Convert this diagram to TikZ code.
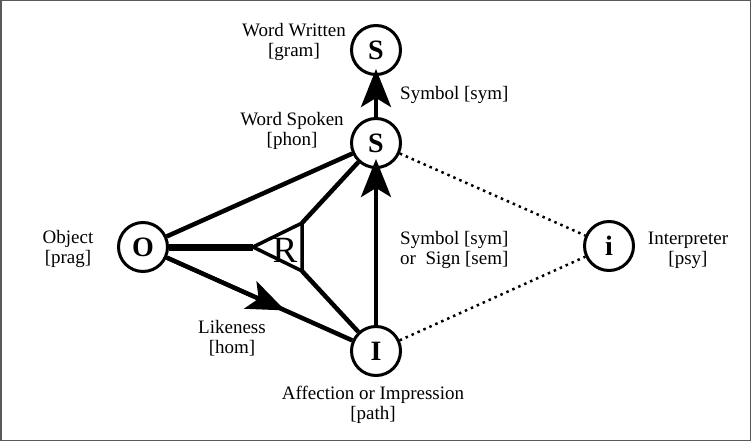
\documentclass[tikz,border=0pt]{standalone}
\usepackage{fontspec}
\setmainfont{Liberation Serif}
\usetikzlibrary{arrows.meta}
\begin{document}
\begin{tikzpicture}[x=1pt,y=-1pt,
  vtx/.style={circle,draw,line width=3pt,minimum size=49pt,inner sep=0pt,font=\fontsize{28}{28}\selectfont\bfseries},
  lbl/.style={font=\fontsize{19}{20}\selectfont,align=center,inner sep=0pt},
  lbll/.style={font=\fontsize{19}{20}\selectfont,align=left,inner sep=0pt},
  heavy/.style={line width=4.5pt},
  bigarrow/.style={line width=4pt,-{Stealth[length=38pt,width=30pt,inset=9pt]}},
  dotline/.style={line width=2.5pt,dash pattern=on 2.5pt off 4pt}
]
\useasboundingbox (0,0) rectangle (751,441);
\draw[line width=1.5pt,black!65] (0.75,0.75) rectangle (750.25,440.25);

% vertices
\node[vtx] (S1) at (376,50) {S};
\node[vtx] (S2) at (376,143) {S};
\node[vtx] (O) at (143,247) {O};
\node[vtx] (I) at (376,351) {I};
\node[vtx] (i) at (609,246) {i};

% R triangle
\coordinate (Rl) at (253,247);
\coordinate (Rt) at (302,223);
\coordinate (Rb) at (302,271);
\draw[line width=3.5pt,line join=miter] (Rl) -- (Rt) -- (Rb) -- cycle;
\node[font=\fontsize{37}{37}\selectfont,inner sep=0pt] (R) at (285,250) {R};

% connectors
\draw[line width=7pt] (O) -- (Rl);
\draw[heavy] (Rt) -- (S2);
\draw[heavy] (Rb) -- (I);
\draw[heavy] (O) -- (S2);
\draw[heavy] (O) -- (I);
\path (O.center) -- (I.center) coordinate[pos=0.61] (lk);
\draw[bigarrow] (O) -- (lk);
\coordinate (s2in) at ([yshift=10pt]S2.south);
\coordinate (s1in) at ([yshift=7pt]S1.south);
\draw[bigarrow] (I) -- (s2in);
\draw[bigarrow] (S2) -- (s1in);
\draw[dotline] (S2) -- (i);
\draw[dotline] (I) -- (i);

% labels
\node[lbl] (lww) at (294,42) {Word Written\\{}[gram]};
\node[lbll,anchor=west] (lsym) at (400,95) {Symbol [sym]};
\node[lbl] (lws) at (292,131) {Word Spoken\\{}[phon]};
\node[lbl] (lobj) at (68,249) {Object\\{}[prag]};
\node[lbl] (llik) at (232,338) {Likeness\\{}[hom]};
\node[lbll,anchor=west] (lsig) at (400,250) {Symbol [sym]\\or~~Sign [sem]};
\node[lbl] (lint) at (688,250) {Interpreter\\{}[psy]};
\node[lbl] (laff) at (373,405) {Affection or Impression\\{}[path]};
\end{tikzpicture}
\end{document}
